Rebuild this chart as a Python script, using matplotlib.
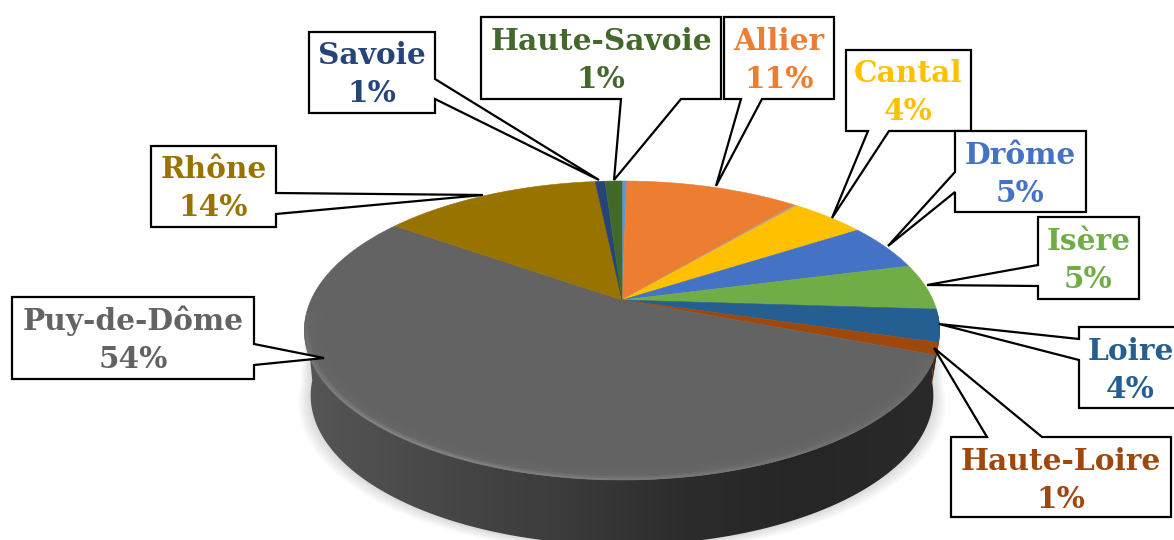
import numpy as np
import matplotlib
matplotlib.use("Agg")
import matplotlib.pyplot as plt
from matplotlib.patches import Polygon
from matplotlib.collections import LineCollection
from matplotlib.colors import LinearSegmentedColormap

# Data, in clockwise order from 12 o'clock
departments = ["Ain", "Allier", "Ardèche", "Cantal", "Drôme", "Isère", "Loire",
               "Haute-Loire", "Puy-de-Dôme", "Rhône", "Savoie", "Haute-Savoie"]
shares = [0.3, 10.8, 0.15, 4.65, 5.1, 5.0, 3.5, 1.3, 54.0, 13.55, 0.6, 1.05]
share_labels = ["", "11%", "", "4%", "5%", "5%", "4%", "1%", "54%", "14%", "1%", "1%"]
colors = ["#5B9BD5", "#ED7D31", "#A5A5A5", "#FFC000", "#4472C4", "#70AD47", "#255E91",
          "#9E480E", "#636363", "#997300", "#264478", "#43682B"]

# Layout: box (x0, y0, x1, y1), side with the pointer base, two base positions, tip
callouts = {
    "Allier": ((724, 17, 834, 99), "bottom", (741, 762), (716, 186)),
    "Cantal": ((846, 50, 971, 131), "bottom", (868, 889), (832, 218)),
    "Drôme": ((955, 131, 1086, 212), "left", (172, 192), (888, 246)),
    "Isère": ((1038, 217, 1139, 299), "left", (265, 286), (927, 285)),
    "Loire": ((1079, 327, 1182, 408), "left", (339, 360), (939, 324)),
    "Haute-Loire": ((951, 437, 1171, 517), "top", (987, 1042), (934, 348)),
    "Puy-de-Dôme": ((12, 297, 254, 379), "right", (344, 365), (324, 358)),
    "Rhône": ((151, 146, 276, 227), "right", (193, 214), (483, 195)),
    "Savoie": ((309, 32, 435, 113), "right", (79, 99), (599, 180)),
    "Haute-Savoie": ((481, 17, 721, 99), "bottom", (621, 681), (614, 180)),
}

FONT = "DejaVu Serif"
CX, CY = 622.0, 300.0
A, B, K = 311.0, 143.3, 0.204
DEPTH = 65.0
SHRINK = 0.98


def project(theta, r=1.0):
    u, v = r * np.sin(theta), r * np.cos(theta)
    w = 1 + K * v
    return CX + A * u / w, CY - B * v / w


fig = plt.figure(figsize=(11.74, 5.40), dpi=100, facecolor="white")
ax = fig.add_axes([0, 0, 1, 1])

edges = np.radians(np.concatenate([[0], np.cumsum(shares)]) / np.sum(shares) * 360)
front_a, front_b = np.radians(101.8), np.radians(258.2)

# soft shadow around the side wall
tf = np.linspace(front_a - 0.1, front_b + 0.1, 200)
fx, fy = project(tf)
for s in range(12, 0, -1):
    sx = CX + (fx - CX) * SHRINK * (1 + s * 0.0034)
    sy = fy + DEPTH + s * 0.7
    ax.fill(np.r_[fx, sx[::-1]], np.r_[fy, sy[::-1]], color="black", alpha=0.012, lw=0, zorder=1)

# side wall: shade runs from mid grey on the left to near black on the right
bx = CX + (fx - CX) * SHRINK
by = fy + DEPTH
cmap = LinearSegmentedColormap.from_list(
    "side", [(0.0, "#565656"), (0.23, "#464646"), (0.40, "#3C3C3C"),
             (0.60, "#2C2C2C"), (0.78, "#262626"), (1.0, "#2A2A2A")])
img = ax.imshow(np.linspace(0, 1, 256).reshape(1, -1), cmap=cmap, extent=(fx.min(), fx.max(), 560, 300),
                aspect="auto", zorder=2)
clip = Polygon(np.c_[np.r_[fx, bx[::-1]], np.r_[fy, by[::-1]]], transform=ax.transData, fc="none", lw=0)
ax.add_patch(clip)
img.set_clip_path(clip)

# coloured side pieces for the slices on the front right
for i in range(len(shares)):
    lo, hi = max(edges[i], np.radians(95)), min(edges[i + 1], np.radians(111))
    if hi > lo and departments[i] != "Puy-de-Dôme":
        t = np.linspace(lo, hi, 10)
        px, py = project(t)
        qx = CX + (px - CX) * SHRINK
        ax.fill(np.r_[px, qx[::-1]], np.r_[py, (py + DEPTH * 0.6)[::-1]], color="#4A2408", lw=0, zorder=2.5)

# top face
for i, col in enumerate(colors):
    t = np.linspace(edges[i], edges[i + 1], max(4, int(shares[i] * 8)))
    px, py = project(t)
    ax.fill(np.r_[CX, px], np.r_[CY, py], fc=col, ec=col, lw=0.4, zorder=3)

# faint lit band along the front of the top face
i_puy = departments.index("Puy-de-Dôme")
t = np.linspace(edges[i_puy] + 0.03, min(edges[i_puy + 1], front_b + 0.12), 300)
for r in np.linspace(0.93, 0.995, 16):
    px, py = project(t, r)
    ramp = (r - 0.93) / 0.065
    ax.plot(px, py, color="#7C7C7C", alpha=0.14 * ramp, lw=1.4, zorder=3.5, solid_capstyle="butt")

# thin highlight on the rim, strongest on the front left
strength = np.interp(np.degrees(t), [110, 180, 220, 250, 265], [0.05, 0.55, 0.95, 0.55, 0.0])
for r, lw, k in [(0.996, 1.2, 0.75), (0.990, 2.4, 0.35)]:
    px, py = project(t, r)
    pts = np.c_[px, py]
    segs = np.stack([pts[:-1], pts[1:]], axis=1)
    rgba = np.tile([0.56, 0.56, 0.56, 1.0], (len(segs), 1))
    rgba[:, 3] = strength[:-1] * k
    ax.add_collection(LineCollection(segs, colors=rgba, linewidths=lw, zorder=3.6, capstyle="butt"))

# callouts
for name, label, col in zip(departments, share_labels, colors):
    if name not in callouts:
        continue
    (x0, y0, x1, y1), side, (b0, b1), tip = callouts[name]
    if side == "right":
        pts = [(x0, y0), (x1, y0), (x1, b0), tip, (x1, b1), (x1, y1), (x0, y1)]
    elif side == "left":
        pts = [(x0, y0), (x1, y0), (x1, y1), (x0, y1), (x0, b1), tip, (x0, b0)]
    elif side == "bottom":
        pts = [(x0, y0), (x1, y0), (x1, y1), (b1, y1), tip, (b0, y1), (x0, y1)]
    else:
        pts = [(x0, y0), (b0, y0), tip, (b1, y0), (x1, y0), (x1, y1), (x0, y1)]
    ax.add_patch(Polygon(pts, closed=True, fc="white", ec="black", lw=1.6, joinstyle="miter", zorder=5))
    xc = (x0 + x1) / 2
    ax.text(xc, y0 + 24, name, color=col, family=FONT, weight="bold", fontsize=21.3,
            ha="center", va="center", zorder=6)
    ax.text(xc, y0 + 62, label, color=col, family=FONT, weight="bold", fontsize=21.3,
            ha="center", va="center", zorder=6)

ax.set_xlim(0, 1174)
ax.set_ylim(540, 0)
ax.axis("off")
fig.savefig("out.png", dpi=100, facecolor="white")
